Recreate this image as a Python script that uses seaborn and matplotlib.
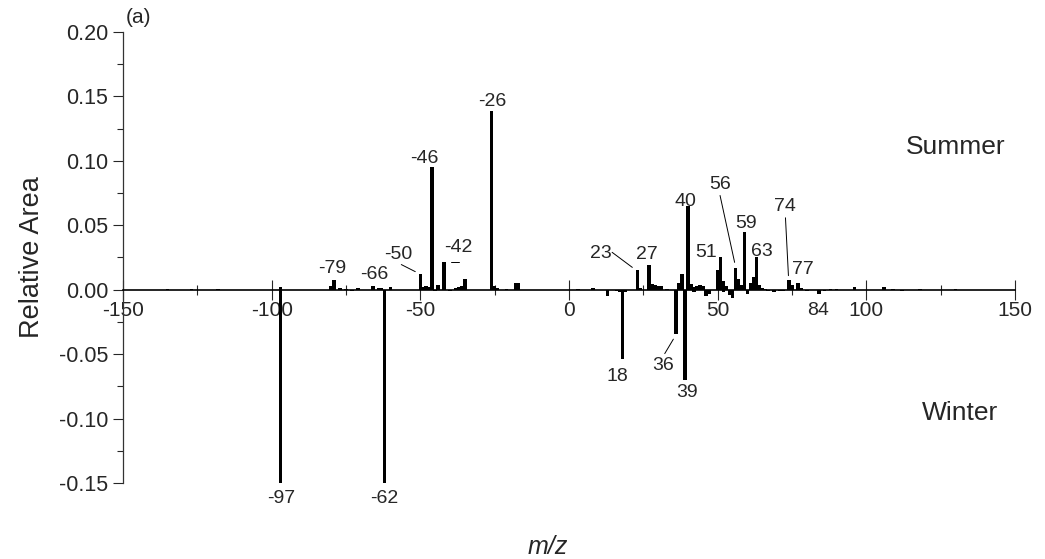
import numpy as np
import pandas as pd
import seaborn as sns
import matplotlib.pyplot as plt
from matplotlib.ticker import MultipleLocator

# summer spectrum (positive side of the mirror plot)
summer_mz = [-135, -127, -118, -97, -80, -79, -77, -75, -71, -66, -64, -63, -60,
             -50, -49, -48, -47, -46, -44, -42, -38, -37, -36, -35, -26, -25, -24,
             -21, -18, -17, 3, 8, 23, 24, 27, 28, 29, 30, 31, 33, 37, 38, 40, 41,
             42, 43, 44, 45, 50, 51, 52, 53, 56, 57, 58, 59, 61, 62, 63, 64, 65,
             66, 74, 75, 77, 78, 88, 90, 96, 106, 109, 118, 130]
summer_area = [0.0006, 0.0008, 0.0005, 0.0022, 0.003, 0.0078, 0.0012, 0.0008, 0.0015,
               0.003, 0.0015, 0.0012, 0.002, 0.0125, 0.002, 0.0025, 0.0018, 0.095,
               0.0035, 0.0218, 0.001, 0.0022, 0.0025, 0.008, 0.139, 0.003, 0.0015,
               0.0008, 0.005, 0.005, 0.0004, 0.0012, 0.0155, 0.0015, 0.0195, 0.0045,
               0.004, 0.003, 0.0025, 0.0005, 0.005, 0.012, 0.065, 0.0045, 0.002,
               0.003, 0.004, 0.0025, 0.015, 0.0255, 0.007, 0.003, 0.017, 0.0085,
               0.004, 0.045, 0.005, 0.0095, 0.025, 0.004, 0.0015, 0.0008, 0.0075,
               0.0035, 0.0055, 0.0012, 0.0005, 0.0008, 0.0022, 0.0018, 0.0008,
               0.0005, 0.0004]

# winter spectrum (negative side)
winter_mz = [-140, -97, -73, -62, -58, -45, -40, -33, -20, 13, 16, 17, 18, 19, 36,
             39, 42, 46, 47, 52, 54, 55, 60, 67, 69, 71, 72, 80, 84, 86, 100, 112]
winter_area = [-0.0004, -0.150, -0.0008, -0.150, -0.0005, -0.001, -0.0008, -0.0005,
               -0.0005, -0.005, -0.0012, -0.0015, -0.054, -0.002, -0.034, -0.070,
               -0.0015, -0.005, -0.003, -0.002, -0.004, -0.0065, -0.0035, -0.0008,
               -0.0015, -0.001, -0.0012, -0.0008, -0.0035, -0.0008, -0.0005, -0.001]

# peak labels: text, text position, optional leader line
peak_labels = [
    ("-26", (-25.9, 0.146), None),
    ("-46", (-48.7, 0.102), None),
    ("-42", (-37.2, 0.0327), ((-39.8, 0.0218), (-37.1, 0.0218))),
    ("-50", (-57.4, 0.027), ((-56.4, 0.0195), (-51.7, 0.014))),
    ("-79", (-79.6, 0.0163), None),
    ("-66", (-65.5, 0.0117), None),
    ("-97", (-96.8, -0.162), None),
    ("-62", (-62.0, -0.162), None),
    ("23", (10.8, 0.028), ((14.5, 0.029), (21.3, 0.0173))),
    ("27", (26.3, 0.027), None),
    ("18", (16.2, -0.067), None),
    ("36", (31.8, -0.059), ((32.2, -0.0496), (35.1, -0.0384))),
    ("39", (39.8, -0.080), None),
    ("40", (39.2, 0.0687), None),
    ("51", (46.0, 0.029), None),
    ("56", (50.7, 0.0817), ((50.8, 0.0731), (55.7, 0.0212))),
    ("59", (59.4, 0.0516), None),
    ("63", (64.8, 0.030), None),
    ("74", (72.7, 0.0646), ((72.8, 0.0558), (73.8, 0.0109))),
    ("77", (78.8, 0.016), None),
    ("84", (83.6, -0.0163), None),
]

df = pd.concat([
    pd.DataFrame({"mz": summer_mz, "area": summer_area, "season": "Summer"}),
    pd.DataFrame({"mz": winter_mz, "area": winter_area, "season": "Winter"}),
])

sns.set_style("white")
plt.rcParams['font.family'] = ['Liberation Sans', 'DejaVu Sans']
plt.rcParams['axes.unicode_minus'] = False

fig = plt.figure(figsize=(10.45, 5.59), dpi=100)
ax = fig.add_axes([0.1177, 0.136, 0.8536, 0.8068])

sns.barplot(data=df, x="mz", y="area", hue="season", native_scale=True,
            dodge=False, palette={"Summer": "black", "Winter": "black"},
            width=1.2, errorbar=None, legend=False, ax=ax, linewidth=0)

ax.set_xlim(-150, 150)
ax.set_ylim(-0.15, 0.20)

# spines: left at -150, bottom through zero
ax.spines['top'].set_visible(False)
ax.spines['right'].set_visible(False)
ax.spines['bottom'].set_position(('data', 0))
ax.spines['bottom'].set_color('black')
ax.spines['bottom'].set_linewidth(1.2)
ax.spines['left'].set_color('#333333')
ax.spines['left'].set_linewidth(0.9)

ax.xaxis.set_major_locator(MultipleLocator(50))
ax.xaxis.set_minor_locator(MultipleLocator(25))
ax.yaxis.set_major_locator(MultipleLocator(0.05))
ax.yaxis.set_minor_locator(MultipleLocator(0.025))
ax.yaxis.set_major_formatter(plt.FormatStrFormatter('%.2f'))

ax.tick_params(axis='x', which='major', direction='inout', length=14, width=0.8,
               labelsize=15, pad=1, bottom=True)
ax.tick_params(axis='x', which='minor', direction='inout', length=7, width=0.8,
               bottom=True)
ax.tick_params(axis='y', which='major', direction='out', length=7, width=0.8,
               labelsize=15.5, left=True)
ax.tick_params(axis='y', which='minor', direction='out', length=4.5, width=0.8,
               left=True)

for txt, (tx, ty), line in peak_labels:
    ax.text(tx, ty, txt, ha='center', va='center', fontsize=14, clip_on=False)
    if line is not None:
        (x0, y0), (x1, y1) = line
        ax.plot([x0, x1], [y0, y1], color='black', lw=0.7, clip_on=False)

ax.text(0.933, 0.745, "Summer", transform=ax.transAxes, ha='center', va='center',
        fontsize=19)
ax.text(0.938, 0.155, "Winter", transform=ax.transAxes, ha='center', va='center',
        fontsize=19)
fig.text(0.133, 0.968, "(a)", ha='center', va='center', fontsize=15)

ax.set_xlabel("m/z", fontsize=18, style='italic')
ax.set_ylabel("Relative Area", fontsize=19.5)
ax.xaxis.set_label_coords(0.476, -0.115)
ax.yaxis.set_label_coords(-0.087, 0.501)

fig.savefig("out.png", dpi=100)
